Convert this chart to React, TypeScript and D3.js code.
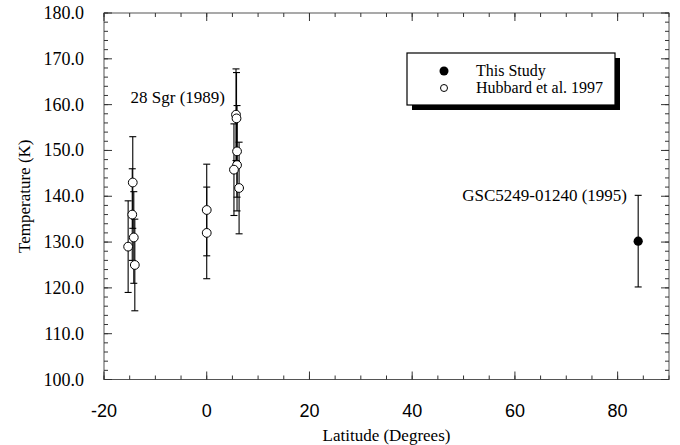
import React from "react";
import * as d3 from "d3";

const hubLat = [-14.4, -14.5, -14.2, -15.3, -14.0, 0.0, 0.0, 5.7, 5.8, 5.9, 5.9, 5.3, 6.3];
const hubTemp = [143, 136, 131, 129, 125, 137, 132, 157.8, 157.0, 149.8, 146.8, 145.8, 141.8];
const hubErr = [10, 10, 10, 10, 10, 10, 10, 10, 10, 10, 10, 10, 10];

const studyLat = [84.0];
const studyTemp = [130.2];
const studyErr = [10];

const xMajor = [-20, 0, 20, 40, 60, 80];
const yMajor = [100, 110, 120, 130, 140, 150, 160, 170, 180];

const W = 680, H = 445;
const L = 104, R = 669, T = 13, B = 379.5;

export default function App() {
  const x = d3.scaleLinear().domain([-20, 90]).range([L, R]);
  const y = d3.scaleLinear().domain([100, 180]).range([B, T]);
  const xMinor = d3.range(-20, 90.01, 5);
  const yMinor = d3.range(100, 180.01, 2);
  const serif = "'Liberation Serif', 'Times New Roman', serif";
  const sans = "'Liberation Sans', Arial, sans-serif";
  const cap = 3.5;

  const errBar = (lx: number, t: number, e: number, key: string) => (
    <g key={key} stroke="#000" strokeWidth={1.1}>
      <line x1={x(lx)} x2={x(lx)} y1={y(t - e)} y2={y(t + e)} />
      <line x1={x(lx) - cap} x2={x(lx) + cap} y1={y(t - e)} y2={y(t - e)} />
      <line x1={x(lx) - cap} x2={x(lx) + cap} y1={y(t + e)} y2={y(t + e)} />
    </g>
  );

  return (
    <svg width={W} height={H} style={{ position: "absolute", left: 0, top: 0, background: "#fff" }}>
      <rect x={0} y={0} width={W} height={H} fill="#fff" />
      <rect x={L} y={T} width={R - L} height={B - T} fill="none" stroke="#555" strokeWidth={1} />
      {xMinor.map((v) => (
        <g key={"xm" + v} stroke="#333">
          <line x1={x(v)} x2={x(v)} y1={B} y2={B - 4} />
          <line x1={x(v)} x2={x(v)} y1={T} y2={T + 4} />
        </g>
      ))}
      {yMinor.map((v) => (
        <g key={"ym" + v} stroke="#333">
          <line x1={L} x2={L + 4} y1={y(v)} y2={y(v)} />
          <line x1={R} x2={R - 4} y1={y(v)} y2={y(v)} />
        </g>
      ))}
      {xMajor.map((v) => (
        <g key={"xM" + v} stroke="#333">
          <line x1={x(v)} x2={x(v)} y1={B} y2={B - 8} />
          <line x1={x(v)} x2={x(v)} y1={T} y2={T + 8} />
        </g>
      ))}
      {yMajor.map((v) => (
        <g key={"yM" + v} stroke="#333">
          <line x1={L} x2={L + 8} y1={y(v)} y2={y(v)} />
          <line x1={R} x2={R - 8} y1={y(v)} y2={y(v)} />
        </g>
      ))}
      {xMajor.map((v) => (
        <text key={"xl" + v} x={x(v)} y={417} textAnchor="middle" fontFamily={sans} fontSize={18} fill="#000">
          {v}
        </text>
      ))}
      {yMajor.map((v) => (
        <text key={"yl" + v} x={84} y={y(v) + 6} textAnchor="end" fontFamily={serif} fontSize={18} fill="#000">
          {v.toFixed(1)}
        </text>
      ))}
      <text x={(L + R) / 2} y={441} textAnchor="middle" fontFamily={serif} fontSize={17} fill="#000">
        Latitude (Degrees)
      </text>
      <text
        transform={`translate(30,${(T + B) / 2}) rotate(-90)`}
        textAnchor="middle"
        fontFamily={serif}
        fontSize={17}
        fill="#000"
      >
        Temperature (K)
      </text>

      {hubLat.map((lx, i) => errBar(lx, hubTemp[i], hubErr[i], "he" + i))}
      {studyLat.map((lx, i) => errBar(lx, studyTemp[i], studyErr[i], "se" + i))}
      {hubLat.map((lx, i) => (
        <circle key={"hp" + i} cx={x(lx)} cy={y(hubTemp[i])} r={4.4} fill="#fff" stroke="#000" strokeWidth={1} />
      ))}
      {studyLat.map((lx, i) => (
        <circle key={"sp" + i} cx={x(lx)} cy={y(studyTemp[i])} r={4.6} fill="#000" />
      ))}

      <text x={225} y={103} textAnchor="end" fontFamily={serif} fontSize={17} fill="#000">
        28 Sgr (1989)
      </text>
      <text x={627} y={201} textAnchor="end" fontFamily={serif} fontSize={17} fill="#000">
        GSC5249-01240 (1995)
      </text>

      <rect x={412} y={58} width={208} height={52} fill="#000" />
      <rect x={407} y={53} width={208} height={52} fill="#fff" stroke="#000" strokeWidth={1.2} />
      <circle cx={444} cy={71} r={4.5} fill="#000" />
      <circle cx={444} cy={88} r={3.5} fill="#fff" stroke="#000" strokeWidth={1} />
      <text x={476} y={76} fontFamily={serif} fontSize={16} fill="#000">This Study</text>
      <text x={476} y={93} fontFamily={serif} fontSize={16} fill="#000">Hubbard et al. 1997</text>
    </svg>
  );
}
